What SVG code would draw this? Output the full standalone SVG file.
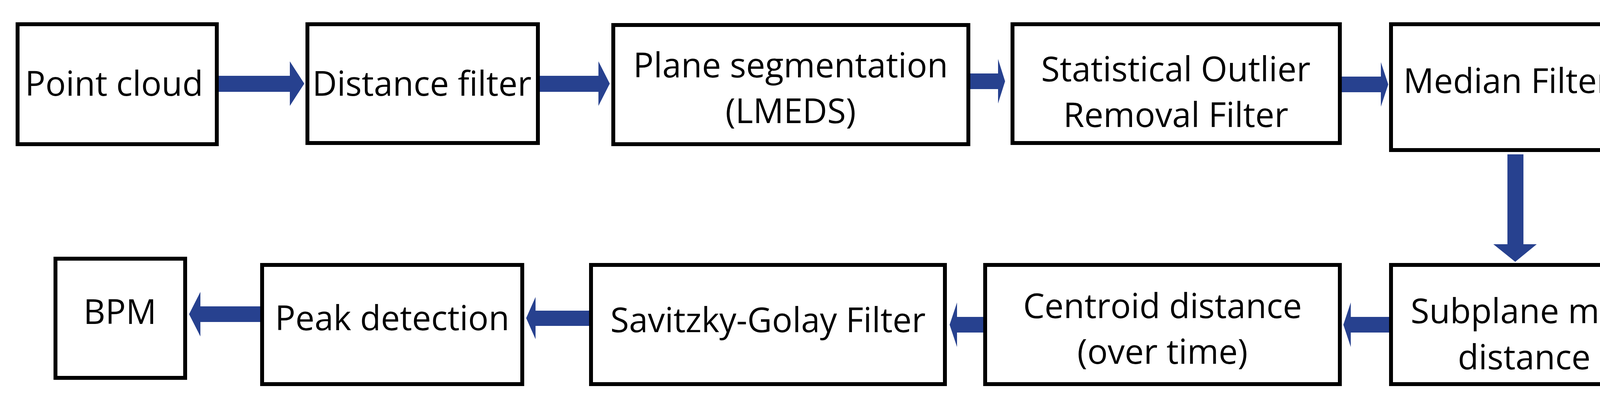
<svg xmlns="http://www.w3.org/2000/svg" width="4272" height="1039" viewBox="0 0 4272 1039">
<style>
.b{fill:#fff;stroke:#000;stroke-width:10}
.t{font-family:"Open Sans","Noto Sans",sans-serif;font-size:87px;fill:#000;text-anchor:middle}
.a{fill:#27418f}
</style>
<rect width="4272" height="1039" fill="#fff"/>
<g id="connectors">
<polygon class="a" points="560,194 742,194 742,157 779,214 742,271 742,235 560,235"/>
<polygon class="a" points="1382,194 1532,194 1532,157 1561,214 1532,271 1532,235 1382,235"/>
<polygon class="a" points="2484,188 2555,188 2555,151 2573,208 2555,265 2555,228 2484,228"/>
<polygon class="a" points="3435,196 3535,196 3535,159 3554,216 3535,273 3535,236 3435,236"/>
<polygon class="a" points="3859,395 3900,395 3900,625 3934,625 3879,670 3823,625 3859,625"/>
<polygon class="a" points="3556,811 3458,811 3458,774 3439,831 3458,888 3458,851 3556,851"/>
<polygon class="a" points="2517,811 2450,811 2450,774 2431,831 2450,888 2450,851 2517,851"/>
<polygon class="a" points="1508,795 1371,795 1371,760 1347,814 1371,868 1371,834 1508,834"/>
<polygon class="a" points="666,784 513,784 513,747 484,804 513,861 513,824 666,824"/>
</g>
<g id="n1"><rect class="b" x="45" y="62" width="510" height="307"/><text class="t" x="292" y="245">Point cloud</text></g>
<g id="n2"><rect class="b" x="787" y="62" width="590" height="304"/><text class="t" x="1080" y="245">Distance filter</text></g>
<g id="n3"><rect class="b" x="1570" y="64" width="909" height="305"/><text class="t" x="2024" y="198">Plane segmentation</text><text class="t" x="2024" y="315">(LMEDS)</text></g>
<g id="n4"><rect class="b" x="2592" y="62" width="838" height="304"/><text class="t" x="3010" y="208">Statistical Outlier</text><text class="t" x="3010" y="325">Removal Filter</text></g>
<g id="n5"><rect class="b" x="3561" y="62" width="589" height="322"/><text class="t" x="3858" y="238">Median Filter</text></g>
<g id="n6"><rect class="b" x="3561" y="678" width="682" height="305"/><text class="t" x="3902" y="827">Subplane min.</text><text class="t" x="3902" y="945">distance</text></g>
<g id="n7"><rect class="b" x="2522" y="678" width="908" height="305"/><text class="t" x="2976" y="814">Centroid distance</text><text class="t" x="2976" y="931">(over time)</text></g>
<g id="n8"><rect class="b" x="1513" y="678" width="906" height="305"/><text class="t" x="1966" y="850">Savitzky-Golay Filter</text></g>
<g id="n9"><rect class="b" x="671" y="678" width="666" height="305"/><text class="t" x="1004" y="845">Peak detection</text></g>
<g id="n10"><rect class="b" x="142" y="662" width="332" height="305"/><text class="t" x="307" y="829">BPM</text></g>
</svg>
